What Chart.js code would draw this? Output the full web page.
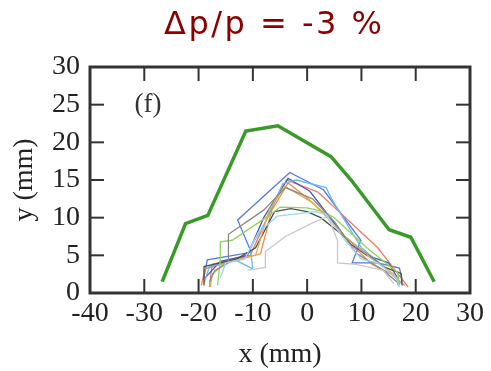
<!DOCTYPE html>
<html>
<head>
<meta charset="utf-8">
<script src="https://cdn.jsdelivr.net/npm/chart.js@4/dist/chart.umd.min.js"></script>
<style>
  html, body { margin: 0; padding: 0; background: #fff; }
  #wrap { width: 491px; height: 371px; position: relative; }
</style>
</head>
<body>
<div id="wrap"><canvas id="c"></canvas></div>
<script>
// beam tracks, x/y in mm
const xTicks = [-40, -30, -20, -10, 0, 10, 20, 30]
const yTicks = [0, 5, 10, 15, 20, 25, 30]
const titleText = 'Δp/p = -3 %'
const panelLabel = '(f)'

const envelope = [[-26.7, 1.5], [-22.4, 9.2], [-18.3, 10.3], [-11.3, 21.5], [-5.4, 22.2], [4.4, 18.1], [8.1, 15], [15.1, 8.4], [19.1, 7.4], [23.4, 1.5]]

const trackBlue = [[-19.1, 1.7], [-18.4, 4.4], [-10.3, 5.4], [-12.8, 9.7], [-3.2, 16], [3, 13.7], [9.9, 7], [8.3, 4], [13, 4], [17, 3.3], [17.6, 1.5]]
const trackOrange = [[-19.5, 1], [-18.8, 3.2], [-12, 4.6], [-8.6, 5.2], [-6.5, 11], [-3.5, 14.6], [0, 12.6], [4, 10], [8, 6.5], [12, 3.8], [15.5, 2.5], [18, 1]]
const trackSalmon = [[-18, 0.8], [-17.5, 3.8], [-10.5, 5], [-6, 12], [-3.8, 15], [2, 13.4], [13, 6], [18.6, 0.8]]
const trackGreen = [[-16.5, 1], [-16, 4.4], [-16, 6.8], [-13.8, 7], [-6.8, 10.4], [-5, 11.4], [0, 11.3], [3, 10.8], [5, 10], [11, 6], [16.7, 2.7], [17, 1]]
const trackGrey = [[-18, 1.5], [-17, 3], [-14.5, 4], [-14.5, 7.8], [-8, 11], [-4, 14], [1, 12.5], [5, 9.5], [9, 5.3], [14, 3], [17, 1.2]]
const trackDark = [[-19, 1], [-19, 3.5], [-13, 4.5], [-9.5, 6], [-6, 10.8], [-3, 11.2], [0, 10.8], [2.5, 10], [9.3, 6.1], [14, 3.5], [17.3, 2.6], [17.5, 1]]
const trackLight = [[-11, 3], [-7.7, 3.4], [-7.7, 5.5], [-4, 7.5], [1, 9.3], [3.8, 10.2], [5.6, 7], [5.6, 4], [9, 3.8], [14, 3], [16, 1.2]]
const trackSky = [[-19, 1.3], [-18, 3.5], [-13, 4.3], [-10, 3.2], [-10.5, 6], [-8, 9], [-4.5, 14.5], [-2, 15], [3.5, 14], [4.5, 12.5], [10, 6], [15, 3], [17.5, 1.2]]
const trackPale = [[-16, 2], [-15, 4], [-11.5, 4.5], [-9, 8], [-5.5, 10.2], [1.5, 10.8], [3.5, 10.4], [7, 7], [10, 4.5], [13, 4], [16.5, 2], [17, 0.8]]
const trackGold = [[-17.8, 0.8], [-17.5, 2.5], [-15, 4], [-9.5, 5], [-7, 11], [-4.2, 14.2], [1, 12], [7, 7.5], [12, 4.5], [16, 2.5], [16.8, 1.5]]
const trackNavy = [[-18.8, 2], [-16, 4.2], [-11, 5], [-8, 10], [-3.5, 15.2], [0.5, 13.5], [8, 6.5], [11, 5], [15, 4], [16.5, 2.2], [16.8, 1]]

const pts = (arr) => arr.map(([x, y]) => ({ x, y }))
const thin = (arr, color) => ({ data: pts(arr), borderColor: color, borderWidth: 1.3, pointRadius: 0, tension: 0, showLine: true })

const TL = 14
const frame = {
  id: 'frame',
  afterDraw(chart) {
    const { ctx, chartArea: a, scales: { x, y } } = chart
    ctx.save()
    ctx.strokeStyle = '#333'
    ctx.lineWidth = 2
    const seg = (x1, y1, x2, y2) => { ctx.beginPath(); ctx.moveTo(x1, y1); ctx.lineTo(x2, y2); ctx.stroke() }
    x.ticks.forEach((t) => {
      if (t.value === x.min || t.value === x.max) return
      const px = x.getPixelForValue(t.value)
      seg(px, a.bottom, px, a.bottom - TL)
      seg(px, a.top, px, a.top + TL)
    })
    y.ticks.forEach((t) => {
      if (t.value === y.min || t.value === y.max) return
      const py = y.getPixelForValue(t.value)
      seg(a.left, py, a.left + TL, py)
      seg(a.right, py, a.right - TL, py)
    })
    ctx.lineWidth = 3
    ctx.strokeRect(a.left, a.top, a.width, a.height)

    // panel label and heading
    ctx.fillStyle = '#333'
    ctx.font = '27px "Liberation Serif"'
    ctx.textAlign = 'center'
    ctx.textBaseline = 'middle'
    ctx.fillText(panelLabel, x.getPixelForValue(-29.3), y.getPixelForValue(25))

    ctx.fillStyle = '#8b0000'
    ctx.font = '32px "DejaVu Sans"'
    ctx.letterSpacing = '2.5px'
    ctx.fillText(titleText, a.left + a.width * 0.485, 26)
    ctx.restore()
  }
}

const tickFont = { family: 'Liberation Serif', size: 28 }

new Chart(document.getElementById('c'), {
  type: 'scatter',
  data: {
    datasets: [
      thin(trackLight, '#c8c8c8'),
      thin(trackPale, '#9cd4f4'),
      thin(trackGrey, '#8a8a8a'),
      thin(trackGold, '#e0b040'),
      thin(trackGreen, '#8fd45a'),
      thin(trackDark, '#505050'),
      thin(trackSky, '#66b8ee'),
      thin(trackNavy, '#4c58b8'),
      thin(trackSalmon, '#f07a66'),
      thin(trackOrange, '#f0884a'),
      thin(trackBlue, '#5577e6'),
      { data: pts(envelope), borderColor: '#3a9a28', borderWidth: 3.5, pointRadius: 0, tension: 0, showLine: true },
    ],
  },
  options: {
    responsive: true,
    maintainAspectRatio: false,
    animation: false,
    layout: { padding: { top: 67, right: 21, bottom: 0, left: 0 } },
    plugins: { legend: { display: false }, tooltip: { enabled: false } },
    scales: {
      x: {
        type: 'linear', min: xTicks[0], max: xTicks[xTicks.length - 1],
        afterBuildTicks: (s) => { s.ticks = xTicks.map((v) => ({ value: v })) },
        afterFit: (s) => { s.height = 78 },
        grid: { display: false, drawTicks: false },
        border: { display: false },
        ticks: { font: tickFont, color: '#222', padding: 4, maxRotation: 0, autoSkip: false },
        title: { display: true, text: 'x (mm)', font: tickFont, color: '#222', padding: { top: 0, bottom: 0 } },
      },
      y: {
        type: 'linear', min: yTicks[0], max: yTicks[yTicks.length - 1],
        afterBuildTicks: (s) => { s.ticks = yTicks.map((v) => ({ value: v })) },
        afterFit: (s) => { s.width = 90 },
        grid: { display: false, drawTicks: false },
        border: { display: false },
        ticks: { font: tickFont, color: '#222', padding: 10, autoSkip: false },
        title: { display: true, text: 'y (mm)', font: tickFont, color: '#222', padding: { top: 8, bottom: 0 } },
      },
    },
  },
  plugins: [frame],
})
</script>
</body>
</html>
